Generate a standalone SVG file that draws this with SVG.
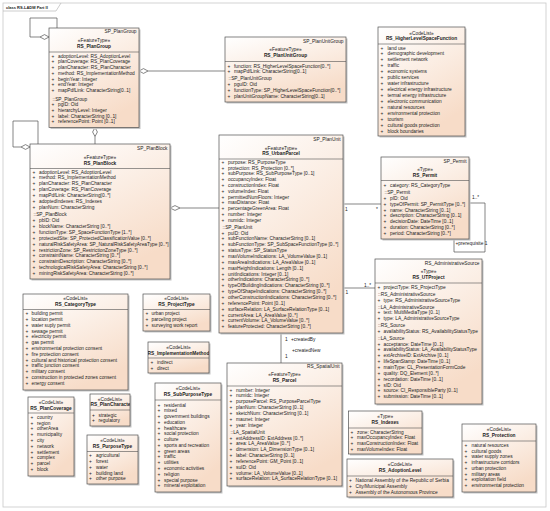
<svg xmlns="http://www.w3.org/2000/svg" width="550" height="511" viewBox="0 0 550 511">
<defs>
<linearGradient id="g" x1="0" y1="0" x2="0.5" y2="1">
<stop offset="0" stop-color="#ffffff"/>
<stop offset="1" stop-color="#f7dcc8"/>
</linearGradient>
<clipPath id="cUT"><rect x="375" y="259" width="107" height="145"/></clipPath>
<clipPath id="cIM"><rect x="148" y="342" width="61" height="31"/></clipPath>
<clipPath id="cPC"><rect x="90" y="394" width="40" height="32"/></clipPath>
</defs>
<style>
.t{font-family:"Liberation Sans",Arial,Helvetica,sans-serif;font-size:4.8px;fill:#222}
.b{font-weight:bold}
.m{text-anchor:middle}
.e{text-anchor:end}
.bx{fill:url(#g);stroke:#505050;stroke-width:0.7}
.sh{fill:#c4c4c4}
.sp{stroke:#505050;stroke-width:0.6}
.ln{fill:none;stroke:#505050;stroke-width:0.7}
.dm{fill:#fff;stroke:#505050;stroke-width:0.7}
.fr{fill:#fff;stroke:#c8c8c8;stroke-width:0.8}
</style>
<rect width="550" height="511" fill="#fff"/>
<g id="frame">
<rect class="fr" x="3" y="3" width="543" height="504"/>
<path d="M3,11 H56 L61,3" fill="none" stroke="#b8b8b8" stroke-width="0.7"/>
<text class="t b" x="6" y="8.8" style="font-size:4px">class RS-LADM Part II</text>
</g>

<g id="connectors">
<path class="ln" d="M40,37 H30 V18 H57 V28"/>
<polygon class="dm" points="49,37 44.5,34.6 40,37 44.5,39.4"/>
<path class="ln" d="M148,71 H225"/>
<polygon class="dm" points="139,71 143.5,68.6 148,71 143.5,73.4"/>
<path class="ln" d="M95,136.5 V144"/>
<polygon class="dm" points="95,127.5 97.4,132 95,136.5 92.6,132"/>
<path class="ln" d="M21,147 H13 V121 H38 V144"/>
<polygon class="dm" points="30,147 25.5,144.6 21,147 25.5,149.4"/>
<path class="ln" d="M180,208 H219"/>
<polygon class="dm" points="170,208 175,205.6 180,208 175,210.4"/>
<path class="ln" d="M343,204 H381"/>
<text class="t" x="345" y="210.5">1</text>
<text class="t" x="376" y="210.5">*</text>
<path class="ln" d="M469,203 H485 V252 H454 V239"/>
<text class="t" x="472" y="198.5">1..*</text>
<text class="t" x="455.5" y="245">+prerequisite 1</text>
<path class="ln" d="M343,288 H375"/>
<text class="t" x="345.5" y="294">1</text>
<text class="t" x="364" y="286.5">1..*</text>
<path class="ln" d="M281,333 V363"/>
<text class="t" x="285" y="340.8">1</text>
<text class="t" x="291" y="340.8">+createdBy</text>
<text class="t" x="292" y="351.8">+createdNew</text>
<text class="t" x="285" y="358.3">1</text>
</g>

<g id="RS_PlanGroup">
<rect class="sh" x="50.5" y="29.5" width="90" height="99.5"/>
<rect class="bx" x="49" y="28" width="90" height="99.5"/>
<line class="sp" x1="49" y1="52" x2="139" y2="52"/>
<text class="t e" x="136.5" y="33">SP_PlanGroup</text>
<text class="t m" x="94" y="41.5">«FeatureType»</text>
<text class="t b m" x="94" y="47.5">RS_PlanGroup</text>
<text class="t"><tspan x="51.5" y="57.5">+</tspan><tspan x="51.5" y="63.25">+</tspan><tspan x="51.5" y="69">+</tspan><tspan x="51.5" y="74.75">+</tspan><tspan x="51.5" y="80.5">+</tspan><tspan x="51.5" y="86.25">+</tspan><tspan x="51.5" y="92">+</tspan><tspan x="51.5" y="106">+</tspan><tspan x="51.5" y="111.75">+</tspan><tspan x="51.5" y="117.5">+</tspan><tspan x="51.5" y="123.25">+</tspan></text>
<text class="t"><tspan x="58" y="57.5">adoptionLevel: RS_AdoptionLevel</tspan><tspan x="58" y="63.25">planCoverage: RS_PlanCoverage</tspan><tspan x="58" y="69">planCharacter: RS_PlanCharacter</tspan><tspan x="58" y="74.75">method: RS_ImplementationMethod</tspan><tspan x="58" y="80.5">beginYear: Integer</tspan><tspan x="58" y="86.25">endYear: Integer</tspan><tspan x="58" y="92">mapPdfLink: CharacterString[0..1]</tspan><tspan x="52.5" y="100.5">::SP_PlanGroup</tspan><tspan x="58" y="106">pgID: Oid</tspan><tspan x="58" y="111.75">hierarchyLevel: Integer</tspan><tspan x="58" y="117.5">label: CharacterString [0..1]</tspan><tspan x="58" y="123.25">referencePoint: Point [0..1]</tspan></text>
</g>

<g id="RS_PlanUnitGroup">
<rect class="sh" x="226.5" y="38.5" width="121" height="65"/>
<rect class="bx" x="225" y="37" width="121" height="65"/>
<line class="sp" x1="225" y1="61.5" x2="346" y2="61.5"/>
<text class="t e" x="343.5" y="42.5">SP_PlanUnitGroup</text>
<text class="t m" x="285.5" y="50.5">«FeatureType»</text>
<text class="t b m" x="285.5" y="56.5">RS_PlanUnitGroup</text>
<text class="t"><tspan x="227.5" y="67.5">+</tspan><tspan x="227.5" y="73.2">+</tspan><tspan x="227.5" y="86.2">+</tspan><tspan x="227.5" y="92">+</tspan><tspan x="227.5" y="97.8">+</tspan></text>
<text class="t"><tspan x="234" y="67.5">function: RS_HigherLevelSpaceFunction[0..*]</tspan><tspan x="234" y="73.2">mapPdfLink: CharacterString[0..1]</tspan><tspan x="228.5" y="80.3">::SP_PlanUnitGroup</tspan><tspan x="234" y="86.2">pguID: Oid</tspan><tspan x="234" y="92">functionType: SP_HigherLevelSpaceFunction[0..*]</tspan><tspan x="234" y="97.8">planUnitGroupName: CharacterString[0..1]</tspan></text>
</g>

<g id="RS_HigherLevelSpaceFunction">
<rect class="sh" x="379.5" y="28.5" width="87" height="109"/>
<rect class="bx" x="378" y="27" width="87" height="109"/>
<line class="sp" x1="378" y1="44" x2="465" y2="44"/>
<text class="t m" x="421.5" y="34.5">«CodeList»</text>
<text class="t b m" x="421.5" y="40">RS_HigherLevelSpaceFunction</text>
<text class="t"><tspan x="380.5" y="49.5">+</tspan><tspan x="380.5" y="55.43">+</tspan><tspan x="380.5" y="61.36">+</tspan><tspan x="380.5" y="67.29">+</tspan><tspan x="380.5" y="73.22">+</tspan><tspan x="380.5" y="79.15">+</tspan><tspan x="380.5" y="85.08">+</tspan><tspan x="380.5" y="91.01">+</tspan><tspan x="380.5" y="96.94">+</tspan><tspan x="380.5" y="102.87">+</tspan><tspan x="380.5" y="108.8">+</tspan><tspan x="380.5" y="114.73">+</tspan><tspan x="380.5" y="120.66">+</tspan><tspan x="380.5" y="126.59">+</tspan><tspan x="380.5" y="132.52">+</tspan></text>
<text class="t"><tspan x="387.5" y="49.5">land use</tspan><tspan x="387.5" y="55.43">demographic development</tspan><tspan x="387.5" y="61.36">settlement network</tspan><tspan x="387.5" y="67.29">traffic</tspan><tspan x="387.5" y="73.22">economic systems</tspan><tspan x="387.5" y="79.15">public services</tspan><tspan x="387.5" y="85.08">water infrastructure</tspan><tspan x="387.5" y="91.01">electrical energy infrastructure</tspan><tspan x="387.5" y="96.94">termal energy infrastructure</tspan><tspan x="387.5" y="102.87">electronic communication</tspan><tspan x="387.5" y="108.8">natural resources</tspan><tspan x="387.5" y="114.73">environmental protection</tspan><tspan x="387.5" y="120.66">tourism</tspan><tspan x="387.5" y="126.59">cultural goods protection</tspan><tspan x="387.5" y="132.52">block boundaries</tspan></text>
</g>

<g id="RS_PlanBlock">
<rect class="sh" x="31.5" y="145.5" width="140" height="135"/>
<rect class="bx" x="30" y="144" width="140" height="135"/>
<line class="sp" x1="30" y1="168.5" x2="170" y2="168.5"/>
<text class="t e" x="167.5" y="149.5">SP_PlanBlock</text>
<text class="t m" x="100" y="158.5">«FeatureType»</text>
<text class="t b m" x="100" y="164.5">RS_PlanBlock</text>
<text class="t"><tspan x="32.5" y="173.5">+</tspan><tspan x="32.5" y="179.4">+</tspan><tspan x="32.5" y="185.3">+</tspan><tspan x="32.5" y="191.2">+</tspan><tspan x="32.5" y="197.1">+</tspan><tspan x="32.5" y="203">+</tspan><tspan x="32.5" y="208.9">+</tspan><tspan x="32.5" y="222.2">+</tspan><tspan x="32.5" y="228.07">+</tspan><tspan x="32.5" y="233.94">+</tspan><tspan x="32.5" y="239.81">+</tspan><tspan x="32.5" y="245.68">+</tspan><tspan x="32.5" y="251.55">+</tspan><tspan x="32.5" y="257.42">+</tspan><tspan x="32.5" y="263.29">+</tspan><tspan x="32.5" y="269.16">+</tspan><tspan x="32.5" y="275.03">+</tspan></text>
<text class="t"><tspan x="39" y="173.5">adoptionLevel: RS_AdoptionLevel</tspan><tspan x="39" y="179.4">method: RS_ImplementationMethod</tspan><tspan x="39" y="185.3">planCharacter: RS_PlanCharacter</tspan><tspan x="39" y="191.2">planCoverage: RS_PlanCoverage</tspan><tspan x="39" y="197.1">mapPdfLink: CharacterString[0..*]</tspan><tspan x="39" y="203">adoptedIndexes: RS_Indexes</tspan><tspan x="39" y="208.9">planNum: CharacterString</tspan><tspan x="33.5" y="216.2">::SP_PlanBlock</tspan><tspan x="39" y="222.2">pbID: Oid</tspan><tspan x="39" y="228.07">blockName: CharacterString [0..*]</tspan><tspan x="39" y="233.94">functionType: SP_SpaceFunctionType [1..*]</tspan><tspan x="39" y="239.81">protectedSite: SP_ProtectedClassificationValue [0..*]</tspan><tspan x="39" y="245.68">naturalRiskSafetyArea: SP_NaturalRiskSafetyAreaType [0..*]</tspan><tspan x="39" y="251.55">restrictionZone: SP_RestrictionZoneType [0..*]</tspan><tspan x="39" y="257.42">constraintName: CharacterString [0..*]</tspan><tspan x="39" y="263.29">constraintDescription: CharacterString [0..*]</tspan><tspan x="39" y="269.16">technologicalRiskSafetyArea: CharacterString [0..*]</tspan><tspan x="39" y="275.03">miningRiskSafetyArea: CharacterString [0..*]</tspan></text>
</g>

<g id="RS_UrbanParcel">
<rect class="sh" x="220.5" y="136.5" width="124" height="198"/>
<rect class="bx" x="219" y="135" width="124" height="198"/>
<line class="sp" x1="219" y1="159" x2="343" y2="159"/>
<text class="t e" x="340.5" y="140.5">SP_PlanUnit</text>
<text class="t m" x="281" y="149.5">«FeatureType»</text>
<text class="t b m" x="281" y="155.2">RS_UrbanParcel</text>
<text class="t"><tspan x="221.5" y="163.8">+</tspan><tspan x="221.5" y="169.6">+</tspan><tspan x="221.5" y="175.4">+</tspan><tspan x="221.5" y="181.2">+</tspan><tspan x="221.5" y="187">+</tspan><tspan x="221.5" y="192.8">+</tspan><tspan x="221.5" y="198.6">+</tspan><tspan x="221.5" y="204.4">+</tspan><tspan x="221.5" y="210.2">+</tspan><tspan x="221.5" y="216">+</tspan><tspan x="221.5" y="221.8">+</tspan><tspan x="221.5" y="234.5">+</tspan><tspan x="221.5" y="240.36">+</tspan><tspan x="221.5" y="246.22">+</tspan><tspan x="221.5" y="252.08">+</tspan><tspan x="221.5" y="257.94">+</tspan><tspan x="221.5" y="263.8">+</tspan><tspan x="221.5" y="269.66">+</tspan><tspan x="221.5" y="275.52">+</tspan><tspan x="221.5" y="281.38">+</tspan><tspan x="221.5" y="287.24">+</tspan><tspan x="221.5" y="293.1">+</tspan><tspan x="221.5" y="298.96">+</tspan><tspan x="221.5" y="304.82">+</tspan><tspan x="221.5" y="310.68">+</tspan><tspan x="221.5" y="316.54">+</tspan><tspan x="221.5" y="322.4">+</tspan><tspan x="221.5" y="328.26">+</tspan></text>
<text class="t"><tspan x="228" y="163.8">purpose: RS_PurposeType</tspan><tspan x="228" y="169.6">protection: RS_Protection [0..*]</tspan><tspan x="228" y="175.4">subPurpose: RS_SubPurposeType [0..1]</tspan><tspan x="228" y="181.2">occupancyIndex: Float</tspan><tspan x="228" y="187">constructionIndex: Float</tspan><tspan x="228" y="192.8">volumeIndex: Float</tspan><tspan x="228" y="198.6">permittedNumFloors: Integer</tspan><tspan x="228" y="204.4">maxDistance: Float</tspan><tspan x="228" y="210.2">percentageGreenArea: Float</tspan><tspan x="228" y="216">number: Integer</tspan><tspan x="228" y="221.8">numidc: Integer</tspan><tspan x="222.5" y="229.2">::SP_PlanUnit</tspan><tspan x="228" y="234.5">puID: Oid</tspan><tspan x="228" y="240.36">subFunctionName: CharacterString [0..1]</tspan><tspan x="228" y="246.22">subFunctionType: SP_SubSpaceFunctionType [0..*]</tspan><tspan x="228" y="252.08">statusType: SP_StatusType</tspan><tspan x="228" y="257.94">maxVolumeIndications: LA_VolumeValue [0..1]</tspan><tspan x="228" y="263.8">maxAreaIndications: LA_AreaValue [0..1]</tspan><tspan x="228" y="269.66">maxHeightIndications: Length [0..1]</tspan><tspan x="228" y="275.52">unitIndications: Integer [0..1]</tspan><tspan x="228" y="281.38">otherIndications: CharacterString [0..*]</tspan><tspan x="228" y="287.24">typeOfBuildingIndications: CharacterString [0..*]</tspan><tspan x="228" y="293.1">typeOfShapeIndications: CharacterString [0..*]</tspan><tspan x="228" y="298.96">otherConstructionIndications: CharacterString [0..*]</tspan><tspan x="228" y="304.82">referencePoint: Point [0..1]</tspan><tspan x="228" y="310.68">surfaceRelation: LA_SurfaceRelationType [0..1]</tspan><tspan x="228" y="316.54">currentArea: LA_AreaValue [0..*]</tspan><tspan x="228" y="322.4">currentVolume: LA_VolumeValue [0..*]</tspan><tspan x="228" y="328.26">featureProtected: CharacterString [0..*]</tspan></text>
</g>

<g id="RS_Permit">
<rect class="sh" x="382.5" y="158.5" width="88" height="82"/>
<rect class="bx" x="381" y="157" width="88" height="82"/>
<line class="sp" x1="381" y1="180.5" x2="469" y2="180.5"/>
<text class="t e" x="466.5" y="162.5">SP_Permit</text>
<text class="t m" x="425" y="170.5">«Type»</text>
<text class="t b m" x="425" y="176.5">RS_Permit</text>
<text class="t"><tspan x="383.5" y="187.2">+</tspan><tspan x="383.5" y="200.2">+</tspan><tspan x="383.5" y="205.95">+</tspan><tspan x="383.5" y="211.7">+</tspan><tspan x="383.5" y="217.45">+</tspan><tspan x="383.5" y="223.2">+</tspan><tspan x="383.5" y="228.95">+</tspan><tspan x="383.5" y="234.7">+</tspan></text>
<text class="t"><tspan x="390" y="187.2">category: RS_CategoryType</tspan><tspan x="384.5" y="194.2">::SP_Permit</tspan><tspan x="390" y="200.2">pID: Oid</tspan><tspan x="390" y="205.95">typeOfPermit: SP_PermitType [0..*]</tspan><tspan x="390" y="211.7">name: CharacterString [0..1]</tspan><tspan x="390" y="217.45">description: CharacterString [0..1]</tspan><tspan x="390" y="223.2">decisionDate: DateTime [0..1]</tspan><tspan x="390" y="228.95">duration: CharacterString [0..*]</tspan><tspan x="390" y="234.7">period: CharacterString [0..*]</tspan></text>
</g>

<g id="RS_UTProject">
<rect class="sh" x="376.5" y="260.5" width="107" height="145"/>
<rect class="bx" x="375" y="259" width="107" height="145"/>
<line class="sp" x1="375" y1="283" x2="482" y2="283"/>
<g clip-path="url(#cUT)">
<text class="t e" x="479.5" y="264.5">RS_AdministrativeSource</text>
<text class="t m" x="428.5" y="273.2">«Type»</text>
<text class="t b m" x="428.5" y="279.2">RS_UTProject</text>
<text class="t"><tspan x="377.5" y="289.2">+</tspan><tspan x="377.5" y="301.5">+</tspan><tspan x="377.5" y="314.2">+</tspan><tspan x="377.5" y="319.8">+</tspan><tspan x="377.5" y="332.5">+</tspan><tspan x="377.5" y="345.5">+</tspan><tspan x="377.5" y="351.4">+</tspan><tspan x="377.5" y="357.2">+</tspan><tspan x="377.5" y="363">+</tspan><tspan x="377.5" y="368.9">+</tspan><tspan x="377.5" y="374.8">+</tspan><tspan x="377.5" y="380.6">+</tspan><tspan x="377.5" y="386.5">+</tspan><tspan x="377.5" y="392.3">+</tspan><tspan x="377.5" y="398.2">+</tspan></text>
<text class="t"><tspan x="383.5" y="289.2">projectType: RS_ProjectType</tspan><tspan x="378" y="295.8">::RS_AdministrativeSource</tspan><tspan x="383.5" y="301.5">type: RS_AdministrativeSourceType</tspan><tspan x="378" y="308.5">::LA_AdministrativeSource</tspan><tspan x="383.5" y="314.2">text: MultiMediaType [0..1]</tspan><tspan x="383.5" y="319.8">type: LA_AdministrativeSourceType</tspan><tspan x="378" y="327.2">::RS_Source</tspan><tspan x="383.5" y="332.5">availabilityStatus: RS_AvailabilityStatusType</tspan><tspan x="378" y="340.2">::LA_Source</tspan><tspan x="383.5" y="345.5">acceptance: DateTime [0..1]</tspan><tspan x="383.5" y="351.4">availabilityStatus: LA_AvailabilityStatusType</tspan><tspan x="383.5" y="357.2">extArchiveID: ExtArchive [0..1]</tspan><tspan x="383.5" y="363">lifeSpanStamp: DateTime [0..1]</tspan><tspan x="383.5" y="368.9">mainType: CL_PresentationFormCode</tspan><tspan x="383.5" y="374.8">quality: DQ_Element [0..*]</tspan><tspan x="383.5" y="380.6">recordation: DateTime [0..1]</tspan><tspan x="383.5" y="386.5">sID: Oid</tspan><tspan x="383.5" y="392.3">source: CI_ResponsibleParty [0..1]</tspan><tspan x="383.5" y="398.2">submission: DateTime [0..1]</tspan></text>
</g>
</g>

<g id="RS_Parcel">
<rect class="sh" x="228.5" y="364.5" width="115" height="123"/>
<rect class="bx" x="227" y="363" width="115" height="123"/>
<line class="sp" x1="227" y1="386" x2="342" y2="386"/>
<text class="t e" x="339.5" y="368">RS_SpatialUnit</text>
<text class="t m" x="284.5" y="376">«FeatureType»</text>
<text class="t b m" x="284.5" y="382">RS_Parcel</text>
<text class="t"><tspan x="229.5" y="391.5">+</tspan><tspan x="229.5" y="397.35">+</tspan><tspan x="229.5" y="403.2">+</tspan><tspan x="229.5" y="409.05">+</tspan><tspan x="229.5" y="414.9">+</tspan><tspan x="229.5" y="420.75">+</tspan><tspan x="229.5" y="426.6">+</tspan><tspan x="229.5" y="439.5">+</tspan><tspan x="229.5" y="445.35">+</tspan><tspan x="229.5" y="451.2">+</tspan><tspan x="229.5" y="457.05">+</tspan><tspan x="229.5" y="462.9">+</tspan><tspan x="229.5" y="468.75">+</tspan><tspan x="229.5" y="474.6">+</tspan><tspan x="229.5" y="480.45">+</tspan></text>
<text class="t"><tspan x="236" y="391.5">number: Integer</tspan><tspan x="236" y="397.35">numidc: Integer</tspan><tspan x="236" y="403.2">purposeParcel: RS_PurposeParcelType</tspan><tspan x="236" y="409.05">planNum: CharacterString [0..1]</tspan><tspan x="236" y="414.9">sketchNum: CharacterString [0..1]</tspan><tspan x="236" y="420.75">maunet: Integer</tspan><tspan x="236" y="426.6">year: Integer</tspan><tspan x="230.5" y="433.8">::LA_SpatialUnit</tspan><tspan x="236" y="439.5">extAddressID: ExtAddress [0..*]</tspan><tspan x="236" y="445.35">area: LA_AreaValue [0..*]</tspan><tspan x="236" y="451.2">dimension: LA_DimensionType [0..1]</tspan><tspan x="236" y="457.05">label: CharacterString [0..1]</tspan><tspan x="236" y="462.9">referencePoint: GM_Point [0..1]</tspan><tspan x="236" y="468.75">suID: Oid</tspan><tspan x="236" y="474.6">volume: LA_VolumeValue [0..1]</tspan><tspan x="236" y="480.45">surfaceRelation: LA_SurfaceRelationType [0..1]</tspan></text>
</g>

<g id="RS_CategoryType">
<rect class="sh" x="24.5" y="295.5" width="105" height="96"/>
<rect class="bx" x="23" y="294" width="105" height="96"/>
<line class="sp" x1="23" y1="309.5" x2="128" y2="309.5"/>
<text class="t m" x="75.5" y="299.5">«CodeList»</text>
<text class="t b m" x="75.5" y="305.5">RS_CategoryType</text>
<text class="t"><tspan x="25.5" y="315.2">+</tspan><tspan x="25.5" y="321">+</tspan><tspan x="25.5" y="326.8">+</tspan><tspan x="25.5" y="332.6">+</tspan><tspan x="25.5" y="338.4">+</tspan><tspan x="25.5" y="344.2">+</tspan><tspan x="25.5" y="350">+</tspan><tspan x="25.5" y="355.8">+</tspan><tspan x="25.5" y="361.6">+</tspan><tspan x="25.5" y="367.4">+</tspan><tspan x="25.5" y="373.2">+</tspan><tspan x="25.5" y="379">+</tspan><tspan x="25.5" y="384.8">+</tspan></text>
<text class="t"><tspan x="31.5" y="315.2">building permit</tspan><tspan x="31.5" y="321">location permit</tspan><tspan x="31.5" y="326.8">water suply permit</tspan><tspan x="31.5" y="332.6">sewage permit</tspan><tspan x="31.5" y="338.4">electricity permit</tspan><tspan x="31.5" y="344.2">gas permit</tspan><tspan x="31.5" y="350">environmental protection consent</tspan><tspan x="31.5" y="355.8">fire protection consent</tspan><tspan x="31.5" y="361.6">cultural and historical protection consent</tspan><tspan x="31.5" y="367.4">traffic junction consent</tspan><tspan x="31.5" y="373.2">military consent</tspan><tspan x="31.5" y="379">construction in protected zones consent</tspan><tspan x="31.5" y="384.8">energy consent</tspan></text>
</g>

<g id="RS_ProjectType">
<rect class="sh" x="144.5" y="295.5" width="67" height="37"/>
<rect class="bx" x="143" y="294" width="67" height="37"/>
<line class="sp" x1="143" y1="309.5" x2="210" y2="309.5"/>
<text class="t m" x="176.5" y="299.5">«CodeList»</text>
<text class="t b m" x="176.5" y="305.5">RS_ProjectType</text>
<text class="t"><tspan x="145.5" y="315.2">+</tspan><tspan x="145.5" y="321">+</tspan><tspan x="145.5" y="326.8">+</tspan></text>
<text class="t"><tspan x="151.5" y="315.2">urban project</tspan><tspan x="151.5" y="321">parceling project</tspan><tspan x="151.5" y="326.8">surveying work report</tspan></text>
</g>

<g id="RS_ImplementationMethod">
<rect class="sh" x="149.5" y="343.5" width="61" height="31"/>
<rect class="bx" x="148" y="342" width="61" height="31"/>
<line class="sp" x1="148" y1="358" x2="209" y2="358"/>
<g clip-path="url(#cIM)">
<text class="t m" x="178.5" y="348.5">«CodeList»</text>
<text class="t b m" x="178.5" y="354.5">RS_ImplementationMethod</text>
</g>
<text class="t"><tspan x="150.5" y="364.2">+</tspan><tspan x="150.5" y="370">+</tspan></text>
<text class="t"><tspan x="157" y="364.2">indirect</tspan><tspan x="157" y="370">direct</tspan></text>
</g>

<g id="RS_SubPurposeType">
<rect class="sh" x="156.5" y="384.5" width="66" height="109"/>
<rect class="bx" x="155" y="383" width="66" height="109"/>
<line class="sp" x1="155" y1="400" x2="221" y2="400"/>
<text class="t m" x="188" y="390">«CodeList»</text>
<text class="t b m" x="188" y="396">RS_SubPurposeType</text>
<text class="t"><tspan x="157.5" y="406.5">+</tspan><tspan x="157.5" y="412.27">+</tspan><tspan x="157.5" y="418.04">+</tspan><tspan x="157.5" y="423.81">+</tspan><tspan x="157.5" y="429.58">+</tspan><tspan x="157.5" y="435.35">+</tspan><tspan x="157.5" y="441.12">+</tspan><tspan x="157.5" y="446.89">+</tspan><tspan x="157.5" y="452.66">+</tspan><tspan x="157.5" y="458.43">+</tspan><tspan x="157.5" y="464.2">+</tspan><tspan x="157.5" y="469.97">+</tspan><tspan x="157.5" y="475.74">+</tspan><tspan x="157.5" y="481.51">+</tspan><tspan x="157.5" y="487.28">+</tspan></text>
<text class="t"><tspan x="164" y="406.5">residential</tspan><tspan x="164" y="412.27">mixed</tspan><tspan x="164" y="418.04">government buildings</tspan><tspan x="164" y="423.81">education</tspan><tspan x="164" y="429.58">healthcare</tspan><tspan x="164" y="435.35">social protection</tspan><tspan x="164" y="441.12">culture</tspan><tspan x="164" y="446.89">sports and recreation</tspan><tspan x="164" y="452.66">green areas</tspan><tspan x="164" y="458.43">traffic</tspan><tspan x="164" y="464.2">utilities</tspan><tspan x="164" y="469.97">economic activities</tspan><tspan x="164" y="475.74">religion</tspan><tspan x="164" y="481.51">special purpose</tspan><tspan x="164" y="487.28">mineral exploitation</tspan></text>
</g>

<g id="RS_PlanCoverage">
<rect class="sh" x="29.5" y="398.5" width="46" height="79"/>
<rect class="bx" x="28" y="397" width="46" height="79"/>
<line class="sp" x1="28" y1="413" x2="74" y2="413"/>
<text class="t m" x="51" y="403.5">«CodeList»</text>
<text class="t b m" x="51" y="409.5">RS_PlanCoverage</text>
<text class="t"><tspan x="30.5" y="418.8">+</tspan><tspan x="30.5" y="424.6">+</tspan><tspan x="30.5" y="430.4">+</tspan><tspan x="30.5" y="436.2">+</tspan><tspan x="30.5" y="442">+</tspan><tspan x="30.5" y="447.8">+</tspan><tspan x="30.5" y="453.6">+</tspan><tspan x="30.5" y="459.4">+</tspan><tspan x="30.5" y="465.2">+</tspan><tspan x="30.5" y="471">+</tspan></text>
<text class="t"><tspan x="37" y="418.8">country</tspan><tspan x="37" y="424.6">region</tspan><tspan x="37" y="430.4">otherArea</tspan><tspan x="37" y="436.2">municipality</tspan><tspan x="37" y="442">city</tspan><tspan x="37" y="447.8">network</tspan><tspan x="37" y="453.6">settlement</tspan><tspan x="37" y="459.4">complex</tspan><tspan x="37" y="465.2">parcel</tspan><tspan x="37" y="471">block</tspan></text>
</g>

<g id="RS_PlanCharacter">
<rect class="sh" x="91.5" y="395.5" width="40" height="32"/>
<rect class="bx" x="90" y="394" width="40" height="32"/>
<line class="sp" x1="90" y1="410" x2="130" y2="410"/>
<g clip-path="url(#cPC)">
<text class="t m" x="110" y="400.5">«CodeList»</text>
<text class="t b" x="90.5" y="406.2">RS_PlanCharacter</text>
</g>
<text class="t"><tspan x="92" y="416.5">+</tspan><tspan x="92" y="422.3">+</tspan></text>
<text class="t"><tspan x="98.5" y="416.5">strategic</tspan><tspan x="98.5" y="422.3">regulatory</tspan></text>
</g>

<g id="RS_PurposeType">
<rect class="sh" x="88.5" y="436.5" width="51" height="49"/>
<rect class="bx" x="87" y="435" width="51" height="49"/>
<line class="sp" x1="87" y1="451.5" x2="138" y2="451.5"/>
<text class="t m" x="112.5" y="441.5">«CodeList»</text>
<text class="t b m" x="112.5" y="447.5">RS_PurposeType</text>
<text class="t"><tspan x="89" y="457.2">+</tspan><tspan x="89" y="463">+</tspan><tspan x="89" y="468.8">+</tspan><tspan x="89" y="474.6">+</tspan><tspan x="89" y="480.4">+</tspan></text>
<text class="t"><tspan x="96" y="457.2">agricultural</tspan><tspan x="96" y="463">forest</tspan><tspan x="96" y="468.8">water</tspan><tspan x="96" y="474.6">building land</tspan><tspan x="96" y="480.4">other purpose</tspan></text>
</g>

<g id="RS_Indexes">
<rect class="sh" x="350" y="412.5" width="73.5" height="43"/>
<rect class="bx" x="348.5" y="411" width="73.5" height="43"/>
<line class="sp" x1="348.5" y1="428" x2="422" y2="428"/>
<text class="t m" x="385.2" y="418.2">«Type»</text>
<text class="t b m" x="385.2" y="423.8">RS_Indexes</text>
<text class="t"><tspan x="350.5" y="433.5">+</tspan><tspan x="350.5" y="439.3">+</tspan><tspan x="350.5" y="445.1">+</tspan><tspan x="350.5" y="450.8">+</tspan></text>
<text class="t"><tspan x="357" y="433.5">zone: CharacterString</tspan><tspan x="357" y="439.3">maxOccupancyIndex: Float</tspan><tspan x="357" y="445.1">maxConstructionIndex: Float</tspan><tspan x="357" y="450.8">maxVolumeIndex: Float</tspan></text>
</g>

<g id="RS_AdoptionLevel">
<rect class="sh" x="348.5" y="460.5" width="106" height="38"/>
<rect class="bx" x="347" y="459" width="106" height="38"/>
<line class="sp" x1="347" y1="476" x2="453" y2="476"/>
<text class="t m" x="400" y="466.2">«CodeList»</text>
<text class="t b m" x="400" y="471.5">RS_AdoptionLevel</text>
<text class="t"><tspan x="349" y="482.2">+</tspan><tspan x="349" y="488">+</tspan><tspan x="349" y="493.8">+</tspan></text>
<text class="t"><tspan x="355.5" y="482.2">National Assembly of the Republic of Serbia</tspan><tspan x="355.5" y="488">City/Municipal Assembly</tspan><tspan x="355.5" y="493.8">Assembly of the Autonomous Province</tspan></text>
</g>

<g id="RS_Protection">
<rect class="sh" x="463.5" y="425.5" width="74" height="68"/>
<rect class="bx" x="462" y="424" width="74" height="68"/>
<line class="sp" x1="462" y1="441" x2="536" y2="441"/>
<text class="t m" x="499" y="430.5">«CodeList»</text>
<text class="t b m" x="499" y="436.8">RS_Protection</text>
<text class="t"><tspan x="464.5" y="446.8">+</tspan><tspan x="464.5" y="452.57">+</tspan><tspan x="464.5" y="458.34">+</tspan><tspan x="464.5" y="464.11">+</tspan><tspan x="464.5" y="469.88">+</tspan><tspan x="464.5" y="475.65">+</tspan><tspan x="464.5" y="481.42">+</tspan><tspan x="464.5" y="487.19">+</tspan></text>
<text class="t"><tspan x="471.5" y="446.8">natural resources</tspan><tspan x="471.5" y="452.57">cultural goods</tspan><tspan x="471.5" y="458.34">water supply zones</tspan><tspan x="471.5" y="464.11">infrastructure corridors</tspan><tspan x="471.5" y="469.88">urban protection</tspan><tspan x="471.5" y="475.65">military areas</tspan><tspan x="471.5" y="481.42">exploitation field</tspan><tspan x="471.5" y="487.19">environmental protection</tspan></text>
</g>
</svg>
